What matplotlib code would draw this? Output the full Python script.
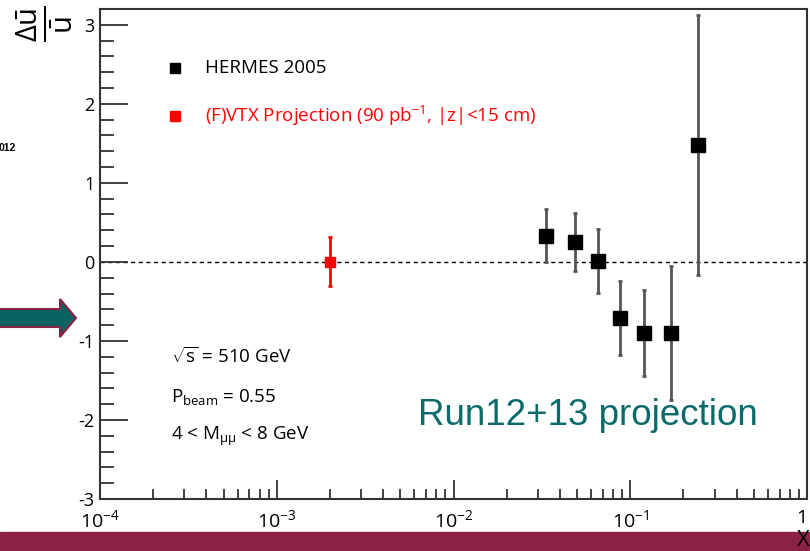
import numpy as np
import matplotlib
matplotlib.use("Agg")
import matplotlib.pyplot as plt
import matplotlib.patches as mpatches
from matplotlib.ticker import FixedLocator, MultipleLocator, NullFormatter

plt.rcParams['font.family'] = ['Open Sans', 'DejaVu Sans']
plt.rcParams['mathtext.fontset'] = 'custom'
plt.rcParams['mathtext.rm'] = 'Open Sans'
plt.rcParams['mathtext.it'] = 'Open Sans'
plt.rcParams['axes.unicode_minus'] = False

# HERMES 2005 points
hermes_x = [0.0335, 0.0486, 0.0656, 0.088, 0.119, 0.169, 0.243]
hermes_y = [0.33, 0.25, 0.01, -0.71, -0.90, -0.90, 1.48]
hermes_err = [0.335, 0.37, 0.40, 0.47, 0.54, 0.85, 1.65]

# (F)VTX projection
vtx_x = [0.002]
vtx_y = [0.0]
vtx_err = [0.31]

xtick_pos = [1e-4, 1e-3, 1e-2, 1e-1, 1]
xtick_lab = [r'$10^{-4}$', r'$10^{-3}$', r'$10^{-2}$', r'$10^{-1}$', '1']

W, H = 810, 551
fig = plt.figure(figsize=(W / 100, H / 100), dpi=100)
ax = fig.add_axes([100 / W, 1 - 499 / H, 707 / W, 490 / H])

ax.axhline(0, color='black', lw=1, ls=(0, (3, 2.5)), zorder=1)

ax.errorbar(hermes_x, hermes_y, yerr=hermes_err, fmt='s', color='black',
            ms=9.5, ecolor='#555555', elinewidth=2, capsize=1.5, capthick=2, zorder=3)
ax.errorbar(vtx_x, vtx_y, yerr=vtx_err, fmt='s', color='red',
            ms=7.5, ecolor='red', elinewidth=2, capsize=1.5, capthick=2, zorder=3)

ax.set_xscale('log')
ax.set_xlim(1e-4, 1)
ax.set_ylim(-3, 3.2)

ax.xaxis.set_major_locator(FixedLocator(xtick_pos))
ax.set_xticklabels(xtick_lab)
ax.get_xticklabels()[-1].set_horizontalalignment('right')
ax.xaxis.set_minor_locator(matplotlib.ticker.LogLocator(base=10, subs=np.arange(2, 10)))
ax.xaxis.set_minor_formatter(NullFormatter())
ax.yaxis.set_major_locator(MultipleLocator(1))
ax.yaxis.set_minor_locator(MultipleLocator(0.2))

ax.tick_params(axis='both', which='both', direction='in', colors='#333333',
               labelcolor='black', width=1.3)
ax.tick_params(axis='y', which='major', length=20, pad=4, labelsize=13)
ax.tick_params(axis='y', which='minor', length=10)
ax.tick_params(axis='x', which='major', length=14, pad=7, labelsize=14)
ax.tick_params(axis='x', which='minor', length=7)
for s in ax.spines.values():
    s.set_color('#333333')
    s.set_linewidth(1.5)

# legend drawn by hand
ax.plot([0.106], [0.88], 's', color='black', ms=7, transform=ax.transAxes)
ax.text(0.149, 0.88, 'HERMES 2005', transform=ax.transAxes, fontsize=13.5,
        va='center', color='black')
ax.plot([0.106], [0.782], 's', color='red', ms=7, transform=ax.transAxes)
ax.text(0.149, 0.782, r'(F)VTX Projection (90 pb$^{-1}$, |z|<15 cm)', transform=ax.transAxes,
        fontsize=13.5, va='center', color='red')

ax.text(0.1, 0.29, r'$\sqrt{s}$ = 510 GeV', transform=ax.transAxes, fontsize=13.5, va='center')
ax.text(0.1, 0.209, r'P$_{\mathrm{beam}}$ = 0.55', transform=ax.transAxes, fontsize=13.5, va='center')
ax.text(0.1, 0.127, r'4 < M$_{\mu\mu}$ < 8 GeV', transform=ax.transAxes, fontsize=13.5, va='center')

ax.text(0.45, 0.17, 'Run12+13 projection', transform=ax.transAxes, fontsize=26.5,
        color='#0b6a6a', family='Liberation Sans', va='center')

fig.text(45 / W, 1 - 24 / H, r'$\frac{\Delta\bar{u}}{\bar{u}}$', rotation=90,
         fontsize=30, ha='center', va='center')

fig.text(-0.002, 1 - 148 / H, '012', fontsize=7.5, fontweight='bold', va='center',
         family='Liberation Sans')

# bottom bar and arrow
fig.patches.append(mpatches.Rectangle((0, 0), 1, 19.5 / H, transform=fig.transFigure,
                                      color='#8b2245', zorder=0))
fig.text(803 / W, 1 - 541 / H, 'X', fontsize=16, ha='center', va='center', color='black')

arrow_px = [(-2, 309), (60, 309), (60, 299), (76, 318), (60, 337), (60, 327), (-2, 327)]
arrow = mpatches.Polygon([(x / W, 1 - y / H) for x, y in arrow_px], closed=True,
                         transform=fig.transFigure, facecolor='#0b6262',
                         edgecolor='#8b2245', lw=1.5)
fig.patches.append(arrow)

fig.savefig('out.png', dpi=100)
